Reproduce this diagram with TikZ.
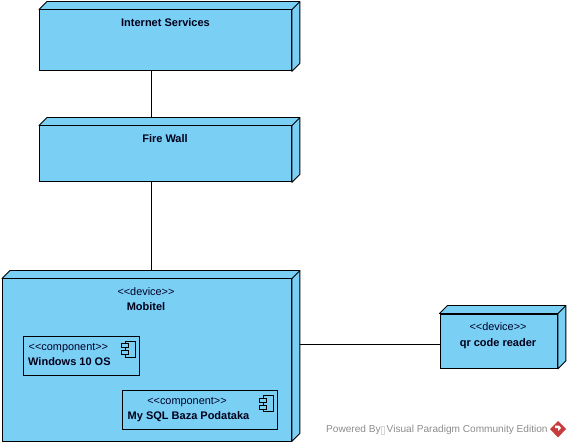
\documentclass[tikz,border=0pt]{standalone}
\usepackage{fontspec}
\setmainfont{Liberation Sans}
\usetikzlibrary{positioning}
\definecolor{nodeblue}{RGB}{122,207,245}
\definecolor{markgray}{RGB}{140,140,140}
\definecolor{markred}{RGB}{200,60,60}
\tikzset{
  nodebox/.style = {draw, fill=nodeblue, line width=.9pt, inner sep=0pt, anchor=north west},
  compbox/.style = {draw, line width=.9pt, inner sep=0pt, anchor=north west},
  nameText/.style = {font=\fontsize{11}{13}\selectfont\bfseries, inner sep=0pt, text=black!90!blue},
  stereoText/.style = {font=\fontsize{10.9}{13}\selectfont, inner sep=0pt, text=black!85!blue},
  link/.style = {line width=.8pt}
}
% side and top faces of a node box
\newcommand\nodefaces[1]{
  \draw[fill=nodeblue, line width=.9pt, line join=round] (#1.north west) -- ++(8pt,8pt) -- ([shift={(8pt,8pt)}]#1.north east) -- ([xshift=8pt,yshift=8pt]#1.south east) -- (#1.south east) -- (#1.north east) -- cycle;
  \draw[line width=.9pt] (#1.north east) -- ++(8pt,8pt);
}
% little component icon, #1 is the name of its box
\newcommand\compicon[2]{
  \node[draw, fill=nodeblue, line width=.7pt, inner sep=0pt, minimum width=10pt, minimum height=16pt, below left=5pt and 4.5pt of #1.north east] (#2) {};
  \node[draw, fill=nodeblue, line width=.7pt, inner sep=0pt, minimum width=7pt, minimum height=4pt] (#2a) at ([yshift=3.5pt]#2.west) {};
  \node[draw, fill=nodeblue, line width=.7pt, inner sep=0pt, minimum width=7pt, minimum height=4pt] (#2b) at ([yshift=-3.5pt]#2.west) {};
}
\begin{document}
\begin{tikzpicture}[x=1pt, y=-1pt]
\useasboundingbox (0,0) rectangle (570,446);
\node[nodebox, minimum width=252pt, minimum height=61pt] (internet) at (39,9.5) {};
\node[nodebox, minimum width=252pt, minimum height=56pt] (firewall) at (39,125.5) {};
\node[nodebox, minimum width=289pt, minimum height=162pt] (mobitel) at (2,278.5) {};
\node[nodebox, minimum width=117.5pt, minimum height=54.5pt] (reader) at (439.5,313.5) {};
\nodefaces{internet}
\nodefaces{firewall}
\nodefaces{mobitel}
\nodefaces{reader}

\node[nameText] (internetName) at (165.5,22.7) {Internet Services};
\node[nameText] (firewallName) at (165,138.7) {Fire Wall};
\node[stereoText] (mobitelType) at (146,291.5) {<{}<device>{}>};
\node[nameText, below=7pt of mobitelType] (mobitelName) {Mobitel};
\node[stereoText] (readerType) at (498,326.5) {<{}<device>{}>};
\node[nameText, below=7.5pt of readerType] (readerName) {qr code reader};

\node[compbox, minimum width=116pt, minimum height=39pt] (windows) at (23,335.5) {};
\node[compbox, minimum width=155pt, minimum height=39pt] (mysql) at (122,390) {};
\compicon{windows}{windowsIcon}
\compicon{mysql}{mysqlIcon}
\node[stereoText, anchor=west] (windowsType) at (28.5,348) {<{}<component>{}>};
\node[nameText, anchor=west] (windowsName) at (28,362) {Windows 10 OS};
\node[stereoText] (mysqlType) at (187,402) {<{}<component>{}>};
\node[nameText, anchor=west] (mysqlName) at (127.5,416.5) {My SQL Baza Podataka};

\draw[link] ([xshift=-14pt]internet.south) -- ([xshift=-14pt,yshift=8pt]firewall.north);
\draw[link] ([xshift=-14pt]firewall.south) -- ([xshift=4.5pt,yshift=8pt]mobitel.north);
\draw[link] ([xshift=8pt,yshift=15.5pt]mobitel.east) -- ([yshift=-3.25pt]reader.west);

\node[font=\fontsize{10.1}{12}\selectfont, text=markgray, inner sep=0pt, anchor=west] (powered) at (326,430.3) {Powered By};
\node[font=\fontsize{10.1}{12}\selectfont, text=markgray, inner sep=0pt, anchor=west] (edition) at (386.5,430.3) {Visual Paradigm Community Edition};
\draw[markgray!35, line width=.4pt] (381,426) rectangle (384.5,434);
\fill[markred] (558,421) -- (566,429) -- (558,437.5) -- (550,429) -- cycle;
\fill[white] (555,425.5) -- (559,425.5) -- (561,428) -- (558,431) -- (558,428) -- (555,428) -- cycle;
\end{tikzpicture}
\end{document}
